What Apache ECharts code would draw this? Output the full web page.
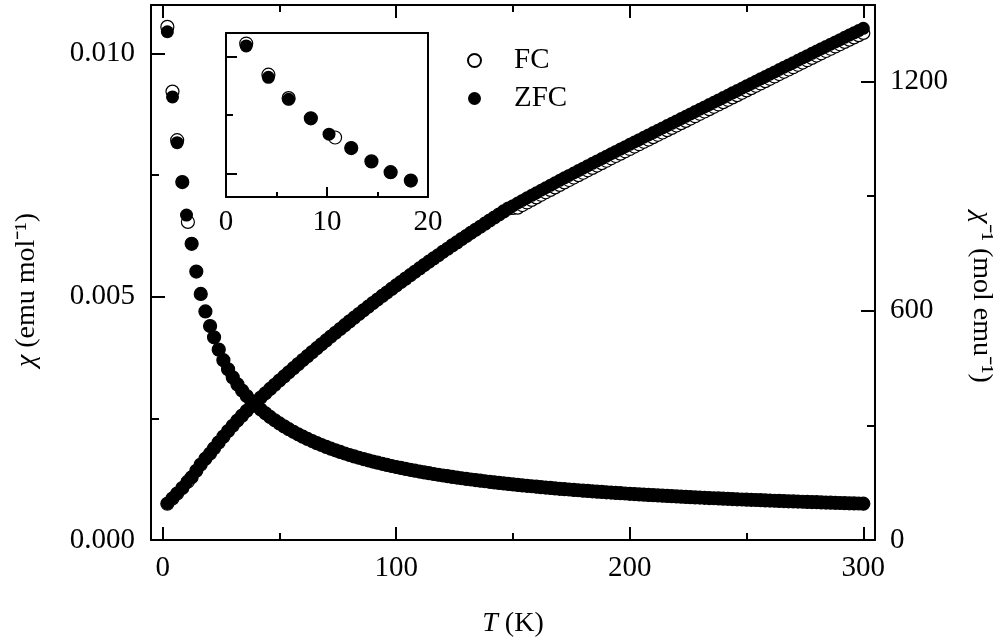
<!DOCTYPE html>
<html>
<head>
<meta charset="utf-8">
<script src="https://cdn.jsdelivr.net/npm/echarts@6/dist/echarts.min.js"></script>
<style>
html,body{margin:0;padding:0;background:#fff;}
#chart{width:1003px;height:641px;}
</style>
</head>
<body>
<div id="chart"></div>
<script>
// Temperature (K), ZFC
var temps = [2,4.2,6.2,8.4,10.2,12.4,14.4,16.3,18.3,20.3,22,24,26,28,30,32,34,36,38,40,42,44,46,48,50,52,54,56,58,60,62,64,66,68,70,72,74,76,78,80,82,84,86,88,90,92,94,96,98,100,102,104,106,108,110,112,114,116,118,120,122,124,126,128,130,132,134,136,138,140,142,144,146,148,150,152,154,156,158,160,162,164,166,168,170,172,174,176,178,180,182,184,186,188,190,192,194,196,198,200,202,204,206,208,210,212,214,216,218,220,222,224,226,228,230,232,234,236,238,240,242,244,246,248,250,252,254,256,258,260,262,264,266,268,270,272,274,276,278,280,282,284,286,288,290,292,294,296,298,300];
// Temperature (K), FC
var fcTemps = [2,4.2,6.2,8.4,10.8,12.4,14.4,16.3,18.3,20.3,22,24,26,28,30,32,34,36,38,40,42,44,46,48,50,52,54,56,58,60,62,64,66,68,70,72,74,76,78,80,82,84,86,88,90,92,94,96,98,100,102,104,106,108,110,112,114,116,118,120,122,124,126,128,130,132,134,136,138,140,142,144,146,148,150,152,154,156,158,160,162,164,166,168,170,172,174,176,178,180,182,184,186,188,190,192,194,196,198,200,202,204,206,208,210,212,214,216,218,220,222,224,226,228,230,232,234,236,238,240,242,244,246,248,250,252,254,256,258,260,262,264,266,268,270,272,274,276,278,280,282,284,286,288,290,292,294,296,298,300];
// chi (emu/mol), ZFC
var zfcChi = [0.01045,0.00911,0.00817,0.00736,0.00668,0.00609,0.00552,0.00506,0.00470,0.00440,0.004167,0.003914,0.003697,0.003509,0.003344,0.003200,0.003072,0.002959,0.002857,0.002765,0.002682,0.002604,0.002530,0.002462,0.002397,0.002336,0.002279,0.002224,0.002173,0.002124,0.002078,0.002034,0.001992,0.001953,0.001915,0.001878,0.001844,0.001811,0.001779,0.001748,0.001719,0.001691,0.001664,0.001638,0.001613,0.001589,0.001566,0.001544,0.001522,0.001501,0.001481,0.001462,0.001443,0.001425,0.001407,0.001390,0.001373,0.001357,0.001342,0.001326,0.001312,0.001297,0.001284,0.001270,0.001257,0.001244,0.001232,0.001220,0.001208,0.001196,0.001185,0.001174,0.001163,0.001153,0.001143,0.001133,0.001123,0.001114,0.001105,0.001096,0.001087,0.001078,0.001070,0.001061,0.001053,0.001045,0.001038,0.001030,0.001023,0.001015,0.001008,0.001001,0.000994,0.000988,0.000981,0.000975,0.000968,0.000962,0.000956,0.000950,0.000944,0.000938,0.000933,0.000927,0.000922,0.000916,0.000911,0.000906,0.000901,0.000896,0.000891,0.000886,0.000881,0.000876,0.000872,0.000867,0.000863,0.000858,0.000854,0.000850,0.000846,0.000841,0.000837,0.000833,0.000829,0.000826,0.000822,0.000818,0.000814,0.000811,0.000807,0.000803,0.000800,0.000796,0.000793,0.000790,0.000786,0.000783,0.000780,0.000777,0.000773,0.000770,0.000767,0.000764,0.000761,0.000758,0.000755,0.000753,0.000750,0.000747];
// chi (emu/mol), FC
var fcChi = [0.01055,0.00922,0.00822,0.00736,0.00654,0.00609,0.00552,0.00506,0.00470,0.00440,0.004167,0.003914,0.003697,0.003509,0.003344,0.003200,0.003072,0.002959,0.002857,0.002765,0.002682,0.002604,0.002530,0.002462,0.002397,0.002336,0.002279,0.002224,0.002173,0.002124,0.002078,0.002034,0.001992,0.001953,0.001915,0.001878,0.001844,0.001811,0.001779,0.001748,0.001719,0.001691,0.001664,0.001638,0.001613,0.001589,0.001566,0.001544,0.001522,0.001501,0.001481,0.001462,0.001443,0.001425,0.001407,0.001390,0.001373,0.001357,0.001342,0.001326,0.001312,0.001297,0.001284,0.001270,0.001257,0.001244,0.001232,0.001220,0.001208,0.001196,0.001185,0.001174,0.001163,0.001153,0.001143,0.001133,0.001123,0.001114,0.001105,0.001096,0.001087,0.001078,0.001070,0.001061,0.001053,0.001045,0.001038,0.001030,0.001023,0.001015,0.001008,0.001001,0.000994,0.000988,0.000981,0.000975,0.000968,0.000962,0.000956,0.000950,0.000944,0.000938,0.000933,0.000927,0.000922,0.000916,0.000911,0.000906,0.000901,0.000896,0.000891,0.000886,0.000881,0.000876,0.000872,0.000867,0.000863,0.000858,0.000854,0.000850,0.000846,0.000841,0.000837,0.000833,0.000829,0.000826,0.000822,0.000818,0.000814,0.000811,0.000807,0.000803,0.000800,0.000796,0.000793,0.000790,0.000786,0.000783,0.000780,0.000777,0.000773,0.000770,0.000767,0.000764,0.000761,0.000758,0.000755,0.000753,0.000750,0.000747];
// inverse chi (mol/emu), ZFC
var zfcInv = [95.7,109.8,122.4,135.9,149.7,164.2,181.2,197.6,212.8,226.4,240.0,255.5,270.5,285.0,299.0,312.5,325.5,338.0,350.0,361.6,372.9,384.0,395.3,406.2,417.2,428.1,438.8,449.6,460.2,470.8,481.2,491.6,502.0,512.0,522.2,532.5,542.3,552.2,562.1,572.1,581.7,591.4,601.0,610.5,620.0,629.3,638.6,647.7,657.0,666.2,675.2,684.0,693.0,701.8,710.7,719.4,728.3,736.9,745.2,754.1,762.2,771.0,778.8,787.4,795.5,803.9,811.7,819.7,827.8,836.1,843.9,851.8,859.8,867.3,874.9,881.8,888.5,895.3,902.0,908.5,915.2,921.8,928.2,934.8,941.3,947.7,954.1,960.4,966.8,973.0,979.5,985.7,991.9,998.1,1004.4,1010.7,1016.8,1023.0,1029.1,1035.3,1041.5,1047.7,1053.9,1059.9,1066.1,1072.2,1078.3,1084.4,1090.4,1096.7,1102.7,1108.8,1114.9,1121.0,1127.2,1133.3,1139.4,1145.5,1151.7,1157.7,1163.9,1170.1,1176.1,1182.2,1188.4,1194.5,1200.6,1206.7,1212.8,1218.9,1225.0,1231.2,1237.2,1243.2,1249.2,1255.4,1261.4,1267.5,1273.5,1279.6,1285.6,1291.6,1297.5,1303.5,1309.3,1315.4,1321.3,1327.2,1333.1,1338.9];
// inverse chi (mol/emu), FC
var fcInv = [94.8,108.5,121.7,135.9,152.9,164.2,181.2,197.6,212.8,226.4,240.0,255.5,270.5,285.0,299.0,312.5,325.5,338.0,350.0,361.6,372.9,384.0,395.3,406.2,417.2,428.1,438.8,449.6,460.2,470.8,481.2,491.6,502.0,512.0,522.2,532.5,542.3,552.2,562.1,572.1,581.7,591.4,601.0,610.5,620.0,629.3,638.6,647.7,657.0,666.2,675.2,684.0,693.0,701.8,710.7,719.4,728.3,736.9,745.2,754.1,762.2,771.0,778.8,787.4,795.5,803.9,811.7,819.7,827.8,836.1,843.9,851.8,859.8,867.3,868.9,869.8,876.5,883.3,890.0,896.5,903.2,909.8,916.2,922.8,929.3,935.7,942.1,948.4,954.8,961.0,967.5,973.7,979.9,986.1,992.4,998.7,1004.8,1011.0,1017.1,1023.3,1029.5,1035.7,1041.9,1047.9,1054.1,1060.2,1066.3,1072.4,1078.4,1084.7,1090.7,1096.8,1102.9,1109.0,1115.2,1121.3,1127.4,1133.5,1139.7,1145.7,1151.9,1158.1,1164.1,1170.2,1176.4,1182.5,1188.6,1194.7,1200.8,1206.9,1213.0,1219.2,1225.2,1231.2,1237.2,1243.4,1249.4,1255.5,1261.5,1267.6,1273.6,1279.6,1285.5,1291.5,1297.3,1303.4,1309.3,1315.2,1321.1,1326.9];

// tick values
var tTicks = [0, 100, 200, 300];
var tMinor = [50, 150, 250];
var chiTicks = [0, 0.005, 0.010];
var chiMinor = [0.0025, 0.0075];
var invTicks = [0, 600, 1200];
var invMinor = [300, 900];
var insetTTicks = [0, 10, 20];
var insetTMajor = [10];
var insetTMinor = [5, 15];
var insetChiMajor = [0.005, 0.010];
var insetChiMinor = [0.0075];

var FONT = '"Liberation Serif", "Times New Roman", serif';
var BLACK = '#000';

function pairs(xs, ys){ return xs.map(function(x,i){ return [x, ys[i]]; }); }

function baseAxis(o){
  var a = {
    type: 'value',
    splitLine: {show: false},
    axisLine: {show: false, onZero: false, lineStyle: {color: BLACK, width: 2}},
    axisTick: {show: false},
    axisLabel: {show: false},
    animation: false
  };
  for (var k in o) a[k] = o[k];
  return a;
}
function ticks(values, len){
  return {show: true, inside: true, length: len, customValues: values, lineStyle: {color: BLACK, width: 2}};
}
function labels(values, margin, fmt){
  var l = {show: true, customValues: values, margin: margin, fontSize: 29, fontFamily: FONT, color: BLACK};
  l.formatter = fmt || function(v){ return String(v); };
  return l;
}
var lineOn = {show: true, onZero: false, lineStyle: {color: BLACK, width: 2}};
var nameStyle = function(pad){
  return {fontSize: 28, fontFamily: FONT, color: BLACK, padding: pad,
    rich: {i: {fontStyle: 'italic', fontSize: 28, fontFamily: FONT, color: BLACK}}};
};

var chart = echarts.init(document.getElementById('chart'), null, {renderer: 'canvas'});

var option = {
  backgroundColor: '#fff',
  animation: false,
  grid: [
    {left: 151, top: 5, width: 724, height: 535, outerBoundsMode: 'none'},
    {left: 226, top: 33, width: 202, height: 164, show: true, backgroundColor: '#fff', borderWidth: 0, outerBoundsMode: 'none'}
  ],
  legend: {
    data: ['FC', 'ZFC'],
    orient: 'vertical',
    left: 462, top: 41,
    itemWidth: 13, itemHeight: 13, itemGap: 9,
    selectedMode: false,
    textStyle: {fontSize: 29, fontFamily: FONT, color: BLACK, lineHeight: 28, padding: [0, 0, 0, 28]}
  },
  xAxis: [
    baseAxis({gridIndex: 0, min: -5, max: 305, position: 'bottom', axisLine: lineOn,
      axisTick: ticks(tTicks, 13), axisLabel: labels(tTicks, 14),
      name: '{i|T} (K)', nameLocation: 'middle', nameGap: 70, nameTextStyle: nameStyle([0,0,0,0])}),
    baseAxis({gridIndex: 0, min: -5, max: 305, position: 'bottom', axisTick: ticks(tMinor, 7)}),
    baseAxis({gridIndex: 0, min: -5, max: 305, position: 'top', axisLine: lineOn, axisTick: ticks(tTicks, 13)}),
    baseAxis({gridIndex: 0, min: -5, max: 305, position: 'top', axisTick: ticks(tMinor, 7)}),
    baseAxis({gridIndex: 1, min: 0, max: 20, position: 'bottom', axisLine: lineOn,
      axisTick: ticks(insetTMajor, 10), axisLabel: labels(insetTTicks, 11)}),
    baseAxis({gridIndex: 1, min: 0, max: 20, position: 'bottom', axisTick: ticks(insetTMinor, 5)}),
    baseAxis({gridIndex: 1, min: 0, max: 20, position: 'top', axisLine: lineOn})
  ],
  yAxis: [
    baseAxis({gridIndex: 0, min: 0, max: 0.011, position: 'left', axisLine: lineOn,
      axisTick: ticks(chiTicks, 14), axisLabel: labels(chiTicks, 16, function(v){ return v.toFixed(3); }),
      name: '{i|χ} (emu mol⁻¹)', nameLocation: 'middle', nameGap: 110, nameTextStyle: nameStyle([0,35,0,0])}),
    baseAxis({gridIndex: 0, min: 0, max: 0.011, position: 'left', axisTick: ticks(chiMinor, 8)}),
    baseAxis({gridIndex: 0, min: 0, max: 1400, position: 'right', axisLine: lineOn,
      axisTick: ticks(invTicks, 14), axisLabel: labels(invTicks, 15),
      name: '{i|χ}⁻¹ (mol emu⁻¹)', nameLocation: 'middle', nameGap: 92, nameRotate: -90, nameTextStyle: nameStyle([0,0,0,49])}),
    baseAxis({gridIndex: 0, min: 0, max: 1400, position: 'right', axisTick: ticks(invMinor, 8)}),
    baseAxis({gridIndex: 1, min: 0.004, max: 0.011, position: 'left', axisLine: lineOn, axisTick: ticks(insetChiMajor, 11)}),
    baseAxis({gridIndex: 1, min: 0.004, max: 0.011, position: 'left', axisTick: ticks(insetChiMinor, 7)}),
    baseAxis({gridIndex: 1, min: 0.004, max: 0.011, position: 'right', axisLine: lineOn})
  ],
  series: []
};

var fcStyle = {color: '#fff', borderColor: BLACK, borderWidth: 1.2, opacity: 1};
var zfcStyle = {color: BLACK, opacity: 1};
function sc(name, xi, yi, data, style, size){
  return {type: 'scatter', name: name, xAxisIndex: xi, yAxisIndex: yi, data: data,
    symbol: 'circle', symbolSize: size, itemStyle: style, clip: true, silent: true, animation: false};
}
option.series.push(sc('FC', 0, 0, pairs(fcTemps, fcChi), fcStyle, 13));
option.series.push(sc('FC', 0, 2, pairs(fcTemps, fcInv), fcStyle, 13));
option.series.push(sc('ZFC', 0, 0, pairs(temps, zfcChi), zfcStyle, 13));
option.series.push(sc('ZFC', 0, 2, pairs(temps, zfcInv), zfcStyle, 13));
option.series.push(sc('FC', 4, 4, pairs(fcTemps, fcChi), fcStyle, 13));
option.series.push(sc('ZFC', 4, 4, pairs(temps, zfcChi), zfcStyle, 13));

chart.setOption(option);
</script>
</body>
</html>
